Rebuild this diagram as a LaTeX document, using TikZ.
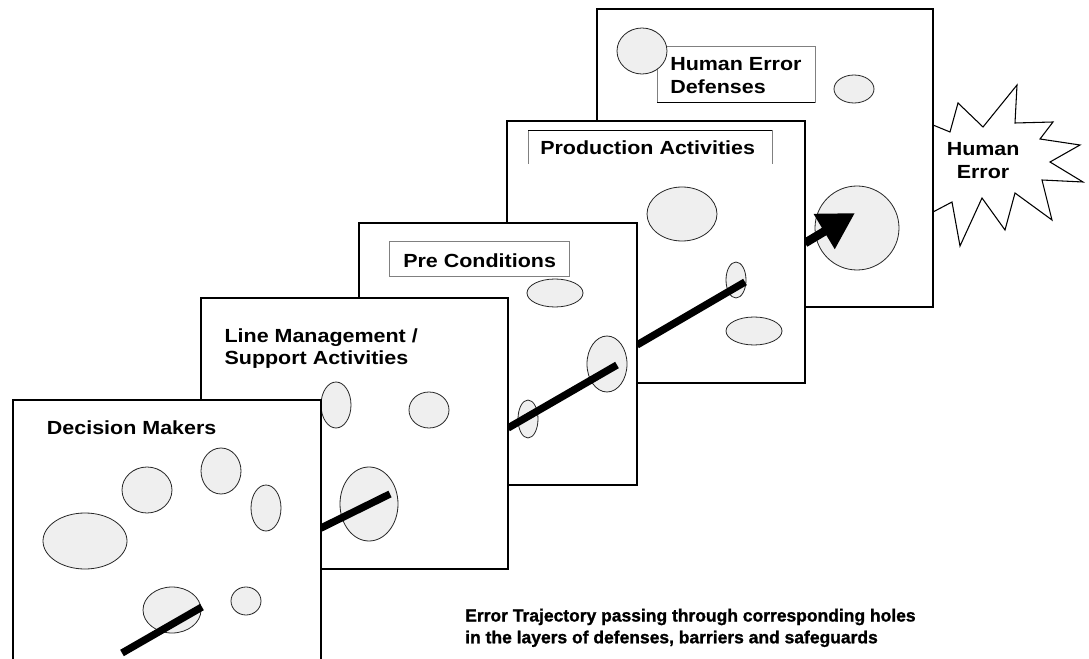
\documentclass[tikz,border=0pt]{standalone}
\usepackage{fontspec}
\setmainfont{Liberation Sans}
\newfontfamily\lblfont{Liberation Sans}[FakeStretch=1.13]
\newfontfamily\capfont{Liberation Sans Bold}[FakeBold=1.2]
\usetikzlibrary{arrows.meta}
\definecolor{holefill}{HTML}{EFEFEF}
\begin{document}
\begin{tikzpicture}[x=0.75pt,y=-0.75pt,
  panel/.style={draw=black,fill=white,line width=0.8pt},
  hole/.style={draw=black!85,fill=holefill,line width=0.6pt},
  traj/.style={line width=5.5pt,draw=black},
  lbl/.style={font=\lblfont\bfseries\fontsize{14.25pt}{16.5pt}\selectfont,anchor=base west,inner sep=0pt,align=left},
  tagbox/.style={draw=gray,line width=0.75pt},
  burst/.style={draw=black,fill=white,line width=0.8pt,line join=miter},
  caption/.style={font=\capfont\fontsize{13.1pt}{15.9pt}\selectfont,anchor=base west,inner sep=0pt,align=left}]
\useasboundingbox (0,0) rectangle (1089,659);
\clip (0,0) rectangle (1089,659);
\fill[white] (0,0) rectangle (1089,659);

% starburst behind the last layer
\draw[burst] (933,125) -- (950,132) -- (958,103) -- (983,127) -- (1017,85) -- (1015,123)
  -- (1053,122) -- (1040,139) -- (1080,145) -- (1050,162) -- (1083,182) -- (1042,180)
  -- (1052,220) -- (1015,193) -- (1005,230) -- (982,198) -- (960,246) -- (952,202) -- (933,212);
\node[lbl] (burstA) at (946.5,156) {Human};
\node[lbl] (burstB) at (956.5,178.3) {Error};

% layer 5: Human Error Defenses
\draw[panel] (597,9) rectangle (933,307);
\draw[tagbox] (657,47) rectangle (815,103);
\draw[black,line width=0.75pt] (657,103) -- (815,103);
\node[lbl] (hed) at (670,71) {Human Error};
\node[lbl] (hed2) at (670,93.5) {Defenses};
\draw[hole] (642,51) ellipse [x radius=25, y radius=23];
\draw[hole] (854,89) ellipse [x radius=20, y radius=14];
\draw[hole] (857,228) ellipse [x radius=42, y radius=42];
\coordinate (a1) at (805,243);
\coordinate (a2) at (855,213);
\draw[line width=6.5pt,-{Triangle[length=27pt,width=29pt]}] (a1) -- (a2);

% layer 4: Production Activities
\draw[panel] (507,121) rectangle (805,383);
\draw[tagbox] (528,164) -- (528,131) -- (772,131) -- (772,164);
\draw[black,line width=0.75pt] (528,131) -- (772,131);
\node[lbl] (prod) at (540,155) {Production Activities};
\draw[hole] (682,214) ellipse [x radius=35, y radius=27];
\draw[hole] (736,280) ellipse [x radius=10, y radius=18];
\draw[hole] (754,331) ellipse [x radius=28, y radius=14];
\coordinate (t4a) at (637,345);
\coordinate (t4b) at (745,282);
\draw[traj] (t4a) -- (t4b);

% layer 3: Pre Conditions
\draw[panel] (359,223) rectangle (637,485);
\draw[tagbox] (389,242) rectangle (569,277);
\node[lbl] (pre) at (403,267.3) {Pre Conditions};
\draw[hole] (555,293) ellipse [x radius=28, y radius=14];
\draw[hole] (607,364) ellipse [x radius=20, y radius=28];
\draw[hole] (528,419) ellipse [x radius=10, y radius=19];
\coordinate (t3a) at (508,428);
\coordinate (t3b) at (617,365);
\draw[traj] (t3a) -- (t3b);

% layer 2: Line Management / Support Activities
\draw[panel] (201,298) rectangle (508,569);
\node[lbl] (lm) at (224.3,342.3) {Line Management /};
\node[lbl] (lm2) at (224.3,364) {Support Activities};
\draw[hole] (336,405) ellipse [x radius=15, y radius=23];
\draw[hole] (429,410) ellipse [x radius=20, y radius=18];
\draw[hole] (369,504) ellipse [x radius=29, y radius=37];
\coordinate (t2a) at (319,529);
\coordinate (t2b) at (390,494);
\draw[traj] (t2a) -- (t2b);

% layer 1: Decision Makers
\draw[panel] (13,400) rectangle (321,700);
\node[lbl] (dm) at (46.7,434.3) {Decision Makers};
\draw[hole] (147,490) ellipse [x radius=25, y radius=23];
\draw[hole] (221,471) ellipse [x radius=20, y radius=23];
\draw[hole] (266,508) ellipse [x radius=15, y radius=23];
\draw[hole] (85,541) ellipse [x radius=42, y radius=28];
\draw[hole] (172,610) ellipse [x radius=29, y radius=23];
\draw[hole] (246,601) ellipse [x radius=15, y radius=14];
\coordinate (t1a) at (122,653);
\coordinate (t1b) at (202,607);
\draw[traj] (t1a) -- (t1b);

% caption
\node[caption] (cap1) at (465,621.5) {Error Trajectory passing through corresponding holes};
\node[caption] (cap2) at (465,643.3) {in the layers of defenses, barriers and safeguards};
\end{tikzpicture}
\end{document}
